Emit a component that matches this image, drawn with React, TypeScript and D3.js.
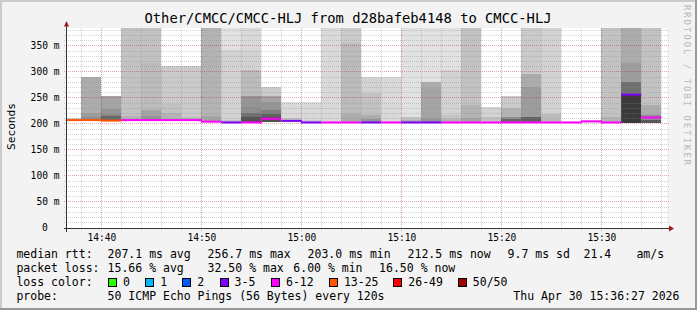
import React, { useLayoutEffect } from "react";
import * as d3 from "d3";

// ---------------- data ----------------
const chartTitle = "Other/CMCC/CMCC-HLJ from d28bafeb4148 to CMCC-HLJ";
const viewStart = "14:36:34";
const viewEnd = "15:36:34";
const stepSeconds = 120;

const barStarts = [
  "14:36", "14:38", "14:40", "14:42", "14:44", "14:46", "14:48", "14:50", "14:52", "14:54",
  "14:56", "14:58", "15:00", "15:02", "15:04", "15:06", "15:08", "15:10", "15:12", "15:14",
  "15:16", "15:18", "15:20", "15:22", "15:24", "15:26", "15:28", "15:30", "15:32", "15:34",
];

// median RTT in ms per step
const medianMs = [
  207.5, 207.5, 206.5, 207.5, 207.5, 207.5, 207.5, 204.5, 203, 203,
  210.2, 206, 203, 203, 203, 203, 203, 203, 203, 203,
  203, 203, 203, 203, 203, 203, 205, 203, 256.5, 212.5,
];

// packet loss (%) per step
const lossPct = [
  30, 32.5, 27, 16, 18, 14, 15, 20, 8, 16,
  13, 8, 6, 14, 18, 9, 14, 7, 9, 13,
  17, 15, 14, 19, 16, 12, 13, 18, 10, 16.5,
];

// smoke layers per step: [low ms, high ms, ping rank of layer]
const smokeBands: [number, number, number][][] = [
  [[206.5, 212, 4]],
  [[206.5, 291, 9], [206.5, 221, 11], [206.5, 213, 13]],
  [[205, 254.5, 10], [205, 229, 12], [205, 219, 14], [205, 215, 18]],
  [[206.5, 420, 6], [206.5, 216, 8]],
  [[206.5, 420, 6], [206.5, 317, 7], [206.5, 227, 10], [206.5, 215, 12]],
  [[206.5, 312, 5], [206.5, 238, 6], [206.5, 222, 8]],
  [[206.5, 312, 5], [206.5, 213, 7]],
  [[203.5, 420, 8], [203.5, 215, 10]],
  [[202.5, 420, 2], [202.5, 342, 4], [202.5, 208, 6]],
  [[202.5, 420, 3], [202.5, 342, 4], [202.5, 303, 7], [202.5, 254, 12], [202.5, 232, 13], [202.5, 222, 17], [202.5, 214, 21]],
  [[203, 272, 5], [203, 254, 10], [203, 242, 12], [203, 226, 15], [203, 219, 19], [203, 214, 21]],
  [[204, 243, 3], [204, 212, 6]],
  [[202.5, 243, 3], [202.5, 207, 5]],
  [[202.5, 420, 3]],
  [[202.5, 420, 5], [202.5, 355, 7], [202.5, 220, 9]],
  [[202.5, 290, 4], [202.5, 260, 6], [202.5, 217, 9], [202.5, 209, 12]],
  [[202.5, 290, 3]],
  [[202.5, 420, 2], [202.5, 214, 6], [202.5, 208, 9]],
  [[202.5, 420, 2], [202.5, 281, 9], [202.5, 269, 10], [202.5, 212, 12]],
  [[202.5, 420, 2], [202.5, 304, 4], [202.5, 217, 6], [202.5, 210, 8]],
  [[202.5, 420, 6], [202.5, 236, 8], [202.5, 212, 10]],
  [[202.5, 232, 4], [202.5, 214, 6]],
  [[202.5, 254, 5], [202.5, 230, 8], [202.5, 214, 13], [202.5, 209, 18]],
  [[202.5, 420, 5], [202.5, 297, 9], [202.5, 272, 11], [202.5, 214, 19]],
  [[202.5, 420, 4], [202.5, 220, 7]],
  [[202, 204, 3]],
  [[203, 207, 3]],
  [[202.5, 420, 6], [202.5, 214, 8]],
  [[202.5, 420, 9], [202.5, 317, 11], [202.5, 281, 17], [202.5, 258, 24]],
  [[202.5, 420, 6], [202.5, 236, 9], [202.5, 217, 13], [202.5, 208, 20]],
];

const yMaxMs = 384.6;
const yTicks = [0, 50, 100, 150, 200, 250, 300, 350];
const xTickLabels = ["14:40", "14:50", "15:00", "15:10", "15:20", "15:30"];

const lossLegendLabels = ["0", "1", "2", "3-5", "6-12", "13-25", "26-49", "50/50"];
const lossLegendColors = ["#26ff00", "#00b8ff", "#0059ff", "#7e00ff", "#ff00ff", "#ff5500", "#ff0000", "#a10000"];
const lossMaxPings = [0, 1, 2, 5, 12, 25, 49, 50];
const pingsPerStep = 50;

const rttStats = ["207.1 ms avg", "256.7 ms max", "203.0 ms min", "212.5 ms now", "9.7 ms sd", "21.4", "am/s"];
const lossStats = ["15.66 % avg", "32.50 % max", "6.00 % min", "16.50 % now"];
const probeText = "50 ICMP Echo Pings (56 Bytes) every 120s";
const dateText = "Thu Apr 30 15:36:27 2026";
const watermark = "RRDTOOL / TOBI OETIKER";

// ---------------- layout ----------------
const W = 697, H = 310;
const PL = 67, PR = 667, PT = 28, PB = 228;
const MONO = "'DejaVu Sans Mono', monospace";

const parseT = d3.timeParse("%H:%M:%S");
const parseHM = d3.timeParse("%H:%M");

function lossColor(pct: number) {
  const pings = (pct / 100) * pingsPerStep;
  for (let i = 0; i < lossMaxPings.length; i++) {
    if (pings <= lossMaxPings[i] + 1e-9) return lossLegendColors[i];
  }
  return lossLegendColors[lossLegendColors.length - 1];
}
function rankGray(rank: number) {
  const g = Math.round(50 + (190 * (25 - rank)) / 25);
  return `rgb(${g},${g},${g})`;
}

export default function App() {
  useLayoutEffect(() => {
    document.body.style.margin = "0";
  }, []);

  const x = d3.scaleTime().domain([parseT(viewStart)!, parseT(viewEnd)!]).range([PL, PR]);
  const y = d3.scaleLinear().domain([0, yMaxMs]).range([PB, PT]);

  const bars = barStarts.map((s, i) => {
    const t0 = parseHM(s)!;
    const t1 = new Date(t0.getTime() + stepSeconds * 1000);
    return { x0: x(t0), x1: x(t1), i };
  });

  const px = (v: number) => Math.floor(v) + 0.5;

  // grid
  const minorY = d3.range(10, yMaxMs, 10).filter((v) => v % 50 !== 0);
  const majorY = yTicks.filter((v) => v > 0);
  const gridTimes = d3.timeMinute.every(2)!.range(parseT(viewStart)!, parseT(viewEnd)!);
  const majorTimes = gridTimes.filter((t) => t.getMinutes() % 10 === 0);
  const minorTimes = gridTimes.filter((t) => t.getMinutes() % 10 !== 0);

  const minorColor = "rgba(140,140,140,0.38)";
  const majorColor = "rgba(170,30,30,0.38)";

  const legendY = [257.5, 271.5, 285.5, 299.5];
  const rttX = [107.6, 207.6, 307.6, 407.6, 507.6, 583.6, 636.4];
  const lossX = [107.6, 207.6, 293.3, 379.1];
  const boxX = [108, 145.3, 182.2, 219.6, 271, 328.9, 393.3, 457.8];

  return (
    <svg width={W} height={H} style={{ position: "absolute", left: 0, top: 0, display: "block" }} fontFamily={MONO}>
      <defs>
        <clipPath id="canvas">
          <rect x={PL} y={PT} width={PR - PL} height={PB - PT} />
        </clipPath>
      </defs>
      <rect x={0} y={0} width={W} height={H} fill="#f3f3f3" />
      {/* 3d frame */}
      <rect x={0} y={0} width={W} height={2} fill="#cbcbcb" />
      <rect x={0} y={0} width={2} height={H} fill="#cbcbcb" />
      <rect x={W - 2} y={0} width={2} height={H} fill="#999999" />
      <rect x={0} y={H - 2} width={W} height={2} fill="#999999" />

      <rect x={PL} y={PT} width={PR - PL} height={PB - PT} fill="#ffffff" />

      {/* smoke */}
      <g clipPath="url(#canvas)" shapeRendering="crispEdges">
        {bars.map((b) =>
          smokeBands[b.i].map(([lo, hi, rank], j) => (
            <rect
              key={`s${b.i}-${j}`}
              x={b.x0}
              width={b.x1 - b.x0}
              y={y(hi)}
              height={y(lo) - y(hi)}
              fill={rankGray(rank)}
            />
          ))
        )}
      </g>

      {/* grid */}
      <g strokeWidth={1} strokeDasharray="1,1" shapeRendering="crispEdges" fill="none">
        {minorY.map((v) => (
          <line key={`hy${v}`} x1={PL - 3} x2={PR + 2} y1={px(y(v))} y2={px(y(v))} stroke={minorColor} />
        ))}
        {minorTimes.map((t) => (
          <line key={`vx${+t}`} x1={px(x(t))} x2={px(x(t))} y1={PT} y2={PB + 3} stroke={minorColor} />
        ))}
        {majorY.map((v) => (
          <line key={`my${v}`} x1={PL - 3} x2={PR + 2} y1={px(y(v))} y2={px(y(v))} stroke={majorColor} />
        ))}
        {majorTimes.map((t) => (
          <line key={`mx${+t}`} x1={px(x(t))} x2={px(x(t))} y1={PT} y2={PB + 3} stroke={majorColor} />
        ))}
      </g>

      {/* median lines */}
      <g clipPath="url(#canvas)" strokeWidth={2} fill="none">
        {bars.map((b) => {
          const c = lossColor(lossPct[b.i]);
          const ym = y(medianMs[b.i]);
          const segs = [
            <line key={`m${b.i}`} x1={b.x0} x2={b.x1} y1={ym} y2={ym} stroke={c} />,
          ];
          if (b.i > 0 && lossColor(lossPct[b.i - 1]) === c && medianMs[b.i - 1] !== medianMs[b.i]) {
            const yp = y(medianMs[b.i - 1]);
            segs.push(
              <line key={`mc${b.i}`} x1={b.x0} x2={b.x0} y1={Math.min(yp, ym) - 1} y2={Math.max(yp, ym) + 1} stroke={c} strokeWidth={1} />
            );
          }
          return segs;
        })}
      </g>

      {/* axes */}
      <g stroke="#333" strokeWidth={1} shapeRendering="crispEdges">
        <line x1={PL - 3} x2={PR + 3} y1={PB + 0.5} y2={PB + 0.5} />
        <line x1={PL - 0.5} x2={PL - 0.5} y1={PB + 4} y2={PT - 4} />
      </g>
      <path d={`M${PL - 0.5},${PT - 7} L${PL - 3},${PT - 1.5} L${PL + 2},${PT - 1.5} Z`} fill="#9a1c1c" />
      <path d={`M${PR + 7},${PB + 0.5} L${PR + 2},${PB - 2.5} L${PR + 2},${PB + 3.5} Z`} fill="#9a1c1c" />

      {/* y labels */}
      <g fontSize={9.6} fill="#000">
        {yTicks.map((v) => (
          <text key={`yl${v}`} x={v === 0 ? 47.9 : 59.5} y={y(v) + 3.4} textAnchor="end">
            {v === 0 ? "0" : `${v} m`}
          </text>
        ))}
        {xTickLabels.map((s) => (
          <text key={`xl${s}`} x={x(parseT(s + ":00")!) + 0.5} y={241} textAnchor="middle">
            {s}
          </text>
        ))}
      </g>

      <text x={15} y={126.5} fontSize={11.2} textAnchor="middle" transform="rotate(-90 15 126.5)">
        Seconds
      </text>
      <text x={348} y={23.3} fontSize={13.8} textAnchor="middle">
        {chartTitle}
      </text>
      <text x={684} y={5} fontSize={8.6} fill="#b8b8b8" letterSpacing={2.2} transform="rotate(90 684 5)">
        {watermark}
      </text>

      {/* legend */}
      <g fontSize={11.5} fill="#000">
        <text x={16.4} y={legendY[0]}>median rtt:</text>
        {rttStats.map((s, i) => (
          <text key={`r${i}`} x={rttX[i]} y={legendY[0]}>{s}</text>
        ))}
        <text x={16.4} y={legendY[1]}>packet loss:</text>
        {lossStats.map((s, i) => (
          <text key={`l${i}`} x={lossX[i]} y={legendY[1]}>{s}</text>
        ))}
        <text x={16.4} y={legendY[2]}>loss color:</text>
        {lossLegendLabels.map((s, i) => (
          <g key={`lc${i}`}>
            <rect x={boxX[i] + 0.5} y={278.5} width={8} height={8} fill={lossLegendColors[i]} stroke="#000" strokeWidth={1} shapeRendering="crispEdges" />
            <text x={boxX[i] + 15} y={legendY[2]}>{s}</text>
          </g>
        ))}
        <text x={16.4} y={legendY[3]}>probe:</text>
        <text x={107.6} y={legendY[3]}>{probeText}</text>
        <text x={513.3} y={legendY[3]}>{dateText}</text>
      </g>
    </svg>
  );
}
